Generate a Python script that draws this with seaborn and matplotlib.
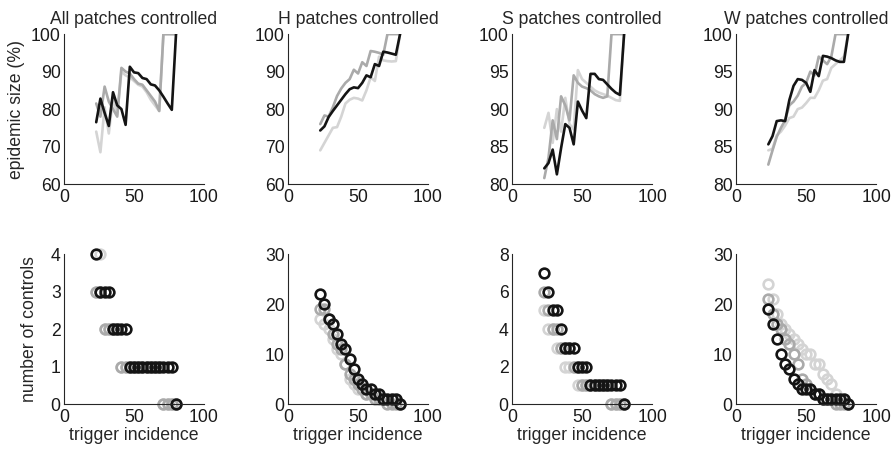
import matplotlib
matplotlib.use("Agg")
import matplotlib.pyplot as plt
import pandas as pd
import seaborn as sns

# trigger incidence values shared by all panels
trigger = [23, 26, 29, 32, 35, 38, 41, 44, 47, 50, 53, 56, 59, 62, 65, 68, 71, 74, 77, 80]

titles = ["All patches controlled", "H patches controlled",
          "S patches controlled", "W patches controlled"]
series_names = ["light", "mid", "black"]

# epidemic size (%)
all_size_light = [74, 68.5, 80.5, 73.5, 83, 78.5, 90, 89, 88.5, 87.5, 86.5, 86, 84.5, 82.5, 81, 79.5, 100, 100, 100, 100]
all_size_mid = [81.5, 78, 86, 82, 80, 78, 91, 90, 89.5, 88, 86.8, 86.5, 85, 83.5, 82, 79.5, 100, 100, 100, 100]
all_size_black = [76.5, 82.8, 79, 75.5, 84.5, 81, 80, 75.8, 91.3, 89.8, 89.6, 88.3, 88, 86.6, 86.3, 85, 83.3, 81.5, 79.8, 100]

h_size_light = [69, 71, 73, 75, 75.2, 78, 81.5, 82.5, 83, 82.8, 82.3, 85, 88.5, 87.5, 94, 93, 92.8, 92.7, 92.8, 100]
h_size_mid = [76, 78.3, 78, 80.5, 83.5, 85.5, 87, 88, 90.5, 89.5, 92.5, 91.5, 95.5, 95.3, 95, 94.5, 100, 100, 100, 100]
h_size_black = [74.3, 75.4, 77.9, 79.5, 81, 82.5, 84, 85.3, 85.8, 85.6, 87, 89, 88.5, 92, 91.5, 95.3, 95.1, 94.8, 94.5, 100]

s_size_light = [87.5, 89.5, 85.5, 90, 87, 91.5, 88, 87.3, 95.2, 94, 93.5, 93, 92.5, 92.2, 92, 91.8, 91.5, 91.2, 91.1, 100]
s_size_mid = [80.8, 83.5, 88.5, 86, 91.7, 90.5, 88.5, 94.5, 93.5, 93, 92.8, 92.5, 92, 91.7, 91.5, 91.7, 100, 100, 100, 100]
s_size_black = [82.1, 82.8, 84.6, 81.3, 84.8, 88, 87.5, 85.3, 91, 89.8, 88.8, 94.7, 94.7, 94, 93.9, 93.3, 92.7, 92.2, 91.9, 100]

w_size_light = [84.5, 84.7, 86.5, 87, 87.8, 88.8, 89, 90, 90.2, 90.8, 91.5, 91.5, 92.5, 93.8, 94, 95.5, 96, 96.5, 97, 100]
w_size_mid = [82.6, 84.5, 86.3, 87.5, 88.5, 90.5, 91, 91.8, 93, 93.5, 95, 94.5, 97, 96.5, 96, 97, 100, 100, 100, 100]
w_size_black = [85.3, 86.4, 88.4, 88.5, 88.4, 91.2, 93.1, 94, 93.9, 93.5, 92.3, 95.2, 94.4, 97.1, 97, 96.8, 96.5, 96.3, 96.3, 100]

# number of controls
all_n_light = [3, 4, 2, 2, 2, 2, 1, 1, 1, 1, 1, 1, 1, 1, 1, 1, 0, 0, 0, 0]
all_n_mid = [3, 3, 2, 2, 2, 2, 1, 1, 1, 1, 1, 1, 1, 1, 1, 1, 0, 0, 0, 0]
all_n_black = [4, 3, 3, 3, 2, 2, 2, 2, 1, 1, 1, 1, 1, 1, 1, 1, 1, 1, 1, 0]

h_n_light = [17, 16, 15, 13, 11, 10, 8, 5, 4, 3, 3, 2, 2, 2, 1, 1, 1, 1, 1, 0]
h_n_mid = [19, 19, 17, 14, 12, 11, 8, 6, 5, 4, 3, 2, 2, 1, 1, 1, 0, 0, 0, 0]
h_n_black = [22, 20, 17, 16, 14, 12, 11, 9, 7, 5, 4, 3, 3, 2, 2, 1, 1, 1, 1, 0]

s_n_light = [5, 4, 4, 3, 3, 2, 2, 2, 1, 1, 1, 1, 1, 1, 1, 1, 0, 0, 0, 0]
s_n_mid = [6, 5, 4, 4, 3, 3, 3, 2, 2, 1, 1, 1, 1, 1, 1, 1, 0, 0, 0, 0]
s_n_black = [7, 6, 5, 5, 4, 3, 3, 3, 2, 2, 2, 1, 1, 1, 1, 1, 1, 1, 1, 0]

w_n_light = [24, 21, 18, 16, 15, 14, 13, 12, 11, 10, 10, 8, 8, 6, 5, 4, 2, 1, 1, 0]
w_n_mid = [21, 18, 16, 15, 13, 12, 10, 8, 5, 4, 3, 2, 2, 1, 1, 1, 0, 0, 0, 0]
w_n_black = [19, 16, 13, 10, 8, 7, 5, 4, 3, 3, 3, 2, 2, 1, 1, 1, 1, 1, 1, 0]

size_sets = [
    (all_size_light, all_size_mid, all_size_black),
    (h_size_light, h_size_mid, h_size_black),
    (s_size_light, s_size_mid, s_size_black),
    (w_size_light, w_size_mid, w_size_black),
]
count_sets = [
    (all_n_light, all_n_mid, all_n_black),
    (h_n_light, h_n_mid, h_n_black),
    (s_n_light, s_n_mid, s_n_black),
    (w_n_light, w_n_mid, w_n_black),
]

size_ylims = [(60, 100), (60, 100), (80, 100), (80, 100)]
size_yticks = [[60, 70, 80, 90, 100], [60, 70, 80, 90, 100],
               [80, 85, 90, 95, 100], [80, 85, 90, 95, 100]]
count_ylims = [(0, 4), (0, 30), (0, 8), (0, 30)]
count_yticks = [[0, 1, 2, 3, 4], [0, 10, 20, 30], [0, 2, 4, 6, 8], [0, 10, 20, 30]]

palette = {"light": "#d4d4d4", "mid": "#aaaaaa", "black": "#141414"}
FS = 12.7


def long_frame(sets, value_name):
    rows = []
    for name, vals in zip(series_names, sets):
        for t, v in zip(trigger, vals):
            rows.append({"trigger": t, value_name: v, "series": name})
    return pd.DataFrame(rows)


def style_axes(ax):
    ax.set_xlim(0, 100)
    ax.set_xticks([0, 50, 100])
    for side in ["top", "right"]:
        ax.spines[side].set_visible(False)
    for side in ["left", "bottom"]:
        ax.spines[side].set_color("#262626")
        ax.spines[side].set_linewidth(0.8)
    ax.tick_params(direction="in", length=3, width=0.6,
                   labelsize=FS, colors="#262626", labelcolor="#1a1a1a")
    ax.tick_params(axis="x", pad=3.5)
    ax.tick_params(axis="y", pad=2.5)
    ax.set_xlabel("")
    ax.set_ylabel("")


sns.set_theme(style="white")
plt.rcParams["font.family"] = ["Liberation Sans", "DejaVu Sans"]

fig = plt.figure(figsize=(8.94, 4.49), dpi=100)
left0, width, step = 0.0716, 0.1566, 0.2506
height = 0.334

for i in range(4):
    ax_top = fig.add_axes([left0 + i * step, 0.590, width, height])
    ax_bot = fig.add_axes([left0 + i * step, 0.100, width, height])

    df_size = long_frame(size_sets[i], "size")
    sns.lineplot(data=df_size, x="trigger", y="size", hue="series",
                 hue_order=series_names, palette=palette, linewidth=1.9,
                 legend=False, ax=ax_top)
    style_axes(ax_top)
    ax_top.set_ylim(*size_ylims[i])
    ax_top.set_yticks(size_yticks[i])
    ax_top.set_title(titles[i], fontsize=FS, pad=7)

    df_count = long_frame(count_sets[i], "controls")
    for name in series_names:
        sub = df_count[df_count["series"] == name]
        c = palette[name]
        sns.lineplot(data=sub, x="trigger", y="controls", color=c,
                     marker="o", linestyle="", markersize=7,
                     markerfacecolor="none", markeredgecolor=c,
                     markeredgewidth=1.9, clip_on=False, ax=ax_bot)
    style_axes(ax_bot)
    ax_bot.set_ylim(*count_ylims[i])
    ax_bot.set_yticks(count_yticks[i])
    ax_bot.set_xlabel("trigger incidence", fontsize=FS, labelpad=1)

    if i == 0:
        ax_top.set_ylabel("epidemic size (%)", fontsize=FS, labelpad=4)
        ax_bot.set_ylabel("number of controls", fontsize=FS, labelpad=9)

fig.savefig("out.png", dpi=100)
